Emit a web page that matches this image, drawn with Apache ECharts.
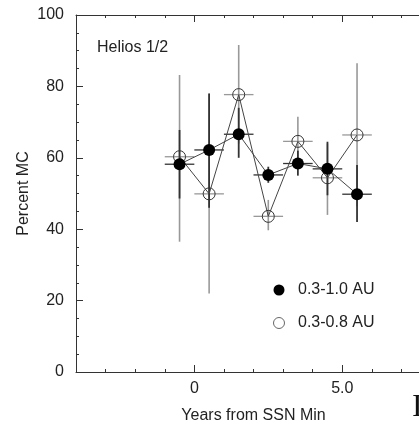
<!DOCTYPE html>
<html>
<head>
<meta charset="utf-8">
<script src="https://cdn.jsdelivr.net/npm/echarts@6/dist/echarts.min.js"></script>
<style>
  html, body { margin: 0; padding: 0; background: #fff; }
  #mcChart { width: 419px; height: 424px; }
</style>
</head>
<body>
<div id="mcChart"></div>
<script>
// years from SSN min (bin centres) and the half width of each bin
var years = [-0.5, 0.5, 1.5, 2.5, 3.5, 4.5, 5.5];
var binHalf = [0.5, 0.5, 0.5, 0.5, 0.5, 0.5, 0.5];

// 0.3-1.0 AU (filled)
var farMC   = [58.2, 62.2, 66.6, 55.2, 58.4, 56.9, 49.8];
var farLow  = [48.6, 46.0, 60.0, 53.0, 55.0, 49.5, 42.0];
var farHigh = [67.8, 78.0, 74.0, 57.5, 62.0, 64.5, 58.0];

// 0.3-0.8 AU (open)
var nearMC   = [60.3, 49.9, 77.7, 43.6, 64.6, 54.4, 66.4];
var nearLow  = [36.5, 22.0, 64.0, 39.7, 57.6, 44.0, 46.4];
var nearHigh = [83.2, 78.0, 91.6, 48.2, 71.5, 64.0, 86.5];

var xLabels = [0, 5];

var font = 'Liberation Sans, Arial, Helvetica, sans-serif';
var txt = '#222';

function rows(mc, lo, hi) {
  var out = [];
  for (var i = 0; i < years.length; i++) {
    out.push([years[i], mc[i], lo[i], hi[i], binHalf[i]]);
  }
  return out;
}

function points(mc) {
  var out = [];
  for (var i = 0; i < years.length; i++) out.push([years[i], mc[i]]);
  return out;
}

// error bars: vertical low..high, horizontal +- half bin
function errBars(color, width) {
  return function (params, api) {
    var x = api.value(0), y = api.value(1);
    var lo = api.coord([x, api.value(2)]);
    var hi = api.coord([x, api.value(3)]);
    var l = api.coord([x - api.value(4), y]);
    var r = api.coord([x + api.value(4), y]);
    return {
      type: 'group',
      children: [
        { type: 'line', shape: { x1: lo[0], y1: lo[1], x2: hi[0], y2: hi[1] },
          style: { stroke: color, lineWidth: width } },
        { type: 'line', shape: { x1: l[0], y1: l[1], x2: r[0], y2: r[1] },
          style: { stroke: color, lineWidth: 1.3 } }
      ]
    };
  };
}

var myChart = echarts.init(document.getElementById('mcChart'));

var baseX = {
  type: 'value', min: -4, max: 8, interval: 1, gridIndex: 0,
  splitLine: { show: false },
  axisLine: { onZero: false, lineStyle: { color: '#333', width: 1 } }
};

myChart.setOption({
  animation: false,
  title: {
    text: 'Helios 1/2', left: 97, top: 40, padding: 0,
    textStyle: { fontFamily: font, fontSize: 16, fontWeight: 'normal', color: txt }
  },
  legend: {
    orient: 'vertical', left: 273, top: 281, padding: 0,
    itemWidth: 28, itemHeight: 11, itemGap: 15,
    textStyle: { fontFamily: font, fontSize: 16, color: txt, lineHeight: 18 },
    data: [
      { name: '0.3-1.0 AU', icon: 'circle', itemStyle: { color: '#000', borderWidth: 0 } },
      { name: '0.3-0.8 AU', icon: 'circle', itemStyle: { color: '#fff', borderColor: '#666', borderWidth: 1 } }
    ]
  },
  grid: { left: 76, top: 15, width: 355, height: 357, outerBoundsMode: 'none' },
  xAxis: [
    Object.assign({}, baseX, {
      position: 'bottom',
      name: 'Years from SSN Min', nameLocation: 'middle', nameGap: 36, nameMoveOverlap: false,
      nameTextStyle: { fontFamily: font, fontSize: 16, color: txt },
      axisTick: { inside: true, length: 3, lineStyle: { color: '#333' } },
      axisLabel: {
        customValues: xLabels, margin: 9,
        fontFamily: font, fontSize: 16, color: txt,
        formatter: function (v) { return v === 5 ? '5.0' : (v === 0 ? '0' : ''); }
      }
    }),
    Object.assign({}, baseX, {
      position: 'bottom',
      axisLine: { show: false },
      axisTick: { inside: true, length: 7, customValues: xLabels, lineStyle: { color: '#333' } },
      axisLabel: { show: false }
    }),
    Object.assign({}, baseX, {
      position: 'top',
      axisTick: { inside: true, length: 3, lineStyle: { color: '#333' } },
      axisLabel: { show: false }
    }),
    Object.assign({}, baseX, {
      position: 'top',
      axisLine: { show: false },
      axisTick: { inside: true, length: 7, customValues: xLabels, lineStyle: { color: '#333' } },
      axisLabel: { show: false }
    })
  ],
  yAxis: {
    type: 'value', min: 0, max: 100, interval: 20,
    name: 'Percent MC', nameLocation: 'middle', nameGap: 44, nameMoveOverlap: false,
    nameTextStyle: { fontFamily: font, fontSize: 16, color: txt },
    splitLine: { show: false },
    axisLine: { onZero: false, lineStyle: { color: '#333', width: 1 } },
    axisTick: { inside: true, length: 7, lineStyle: { color: '#333' } },
    minorTick: { show: true, splitNumber: 4, length: 3, lineStyle: { color: '#333' } },
    axisLabel: { margin: 12, fontFamily: font, fontSize: 16, color: txt }
  },
  series: [
    {
      name: 'nearErr', type: 'custom', z: 1, silent: true,
      renderItem: errBars('#999', 1.6),
      encode: { x: 0, y: 1 },
      data: rows(nearMC, nearLow, nearHigh)
    },
    {
      name: 'farErr', type: 'custom', z: 2, silent: true,
      renderItem: errBars('#333', 1.8),
      encode: { x: 0, y: 1 },
      data: rows(farMC, farLow, farHigh)
    },
    {
      name: '0.3-0.8 AU', type: 'line', z: 3,
      symbol: 'circle', symbolSize: 12, showAllSymbol: true,
      lineStyle: { color: '#444', width: 1 },
      itemStyle: { color: 'transparent', borderColor: '#333', borderWidth: 1 },
      data: points(nearMC)
    },
    {
      name: '0.3-1.0 AU', type: 'line', z: 4,
      symbol: 'circle', symbolSize: 12, showAllSymbol: true,
      lineStyle: { color: '#444', width: 1 },
      itemStyle: { color: '#000', borderWidth: 0 },
      data: points(farMC)
    }
  ],
  graphic: [
    {
      type: 'text', left: 412, top: 392,
      style: { text: 'I', font: '32px "Liberation Serif", "Times New Roman", serif', fill: '#111' }
    }
  ]
});
</script>
</body>
</html>
